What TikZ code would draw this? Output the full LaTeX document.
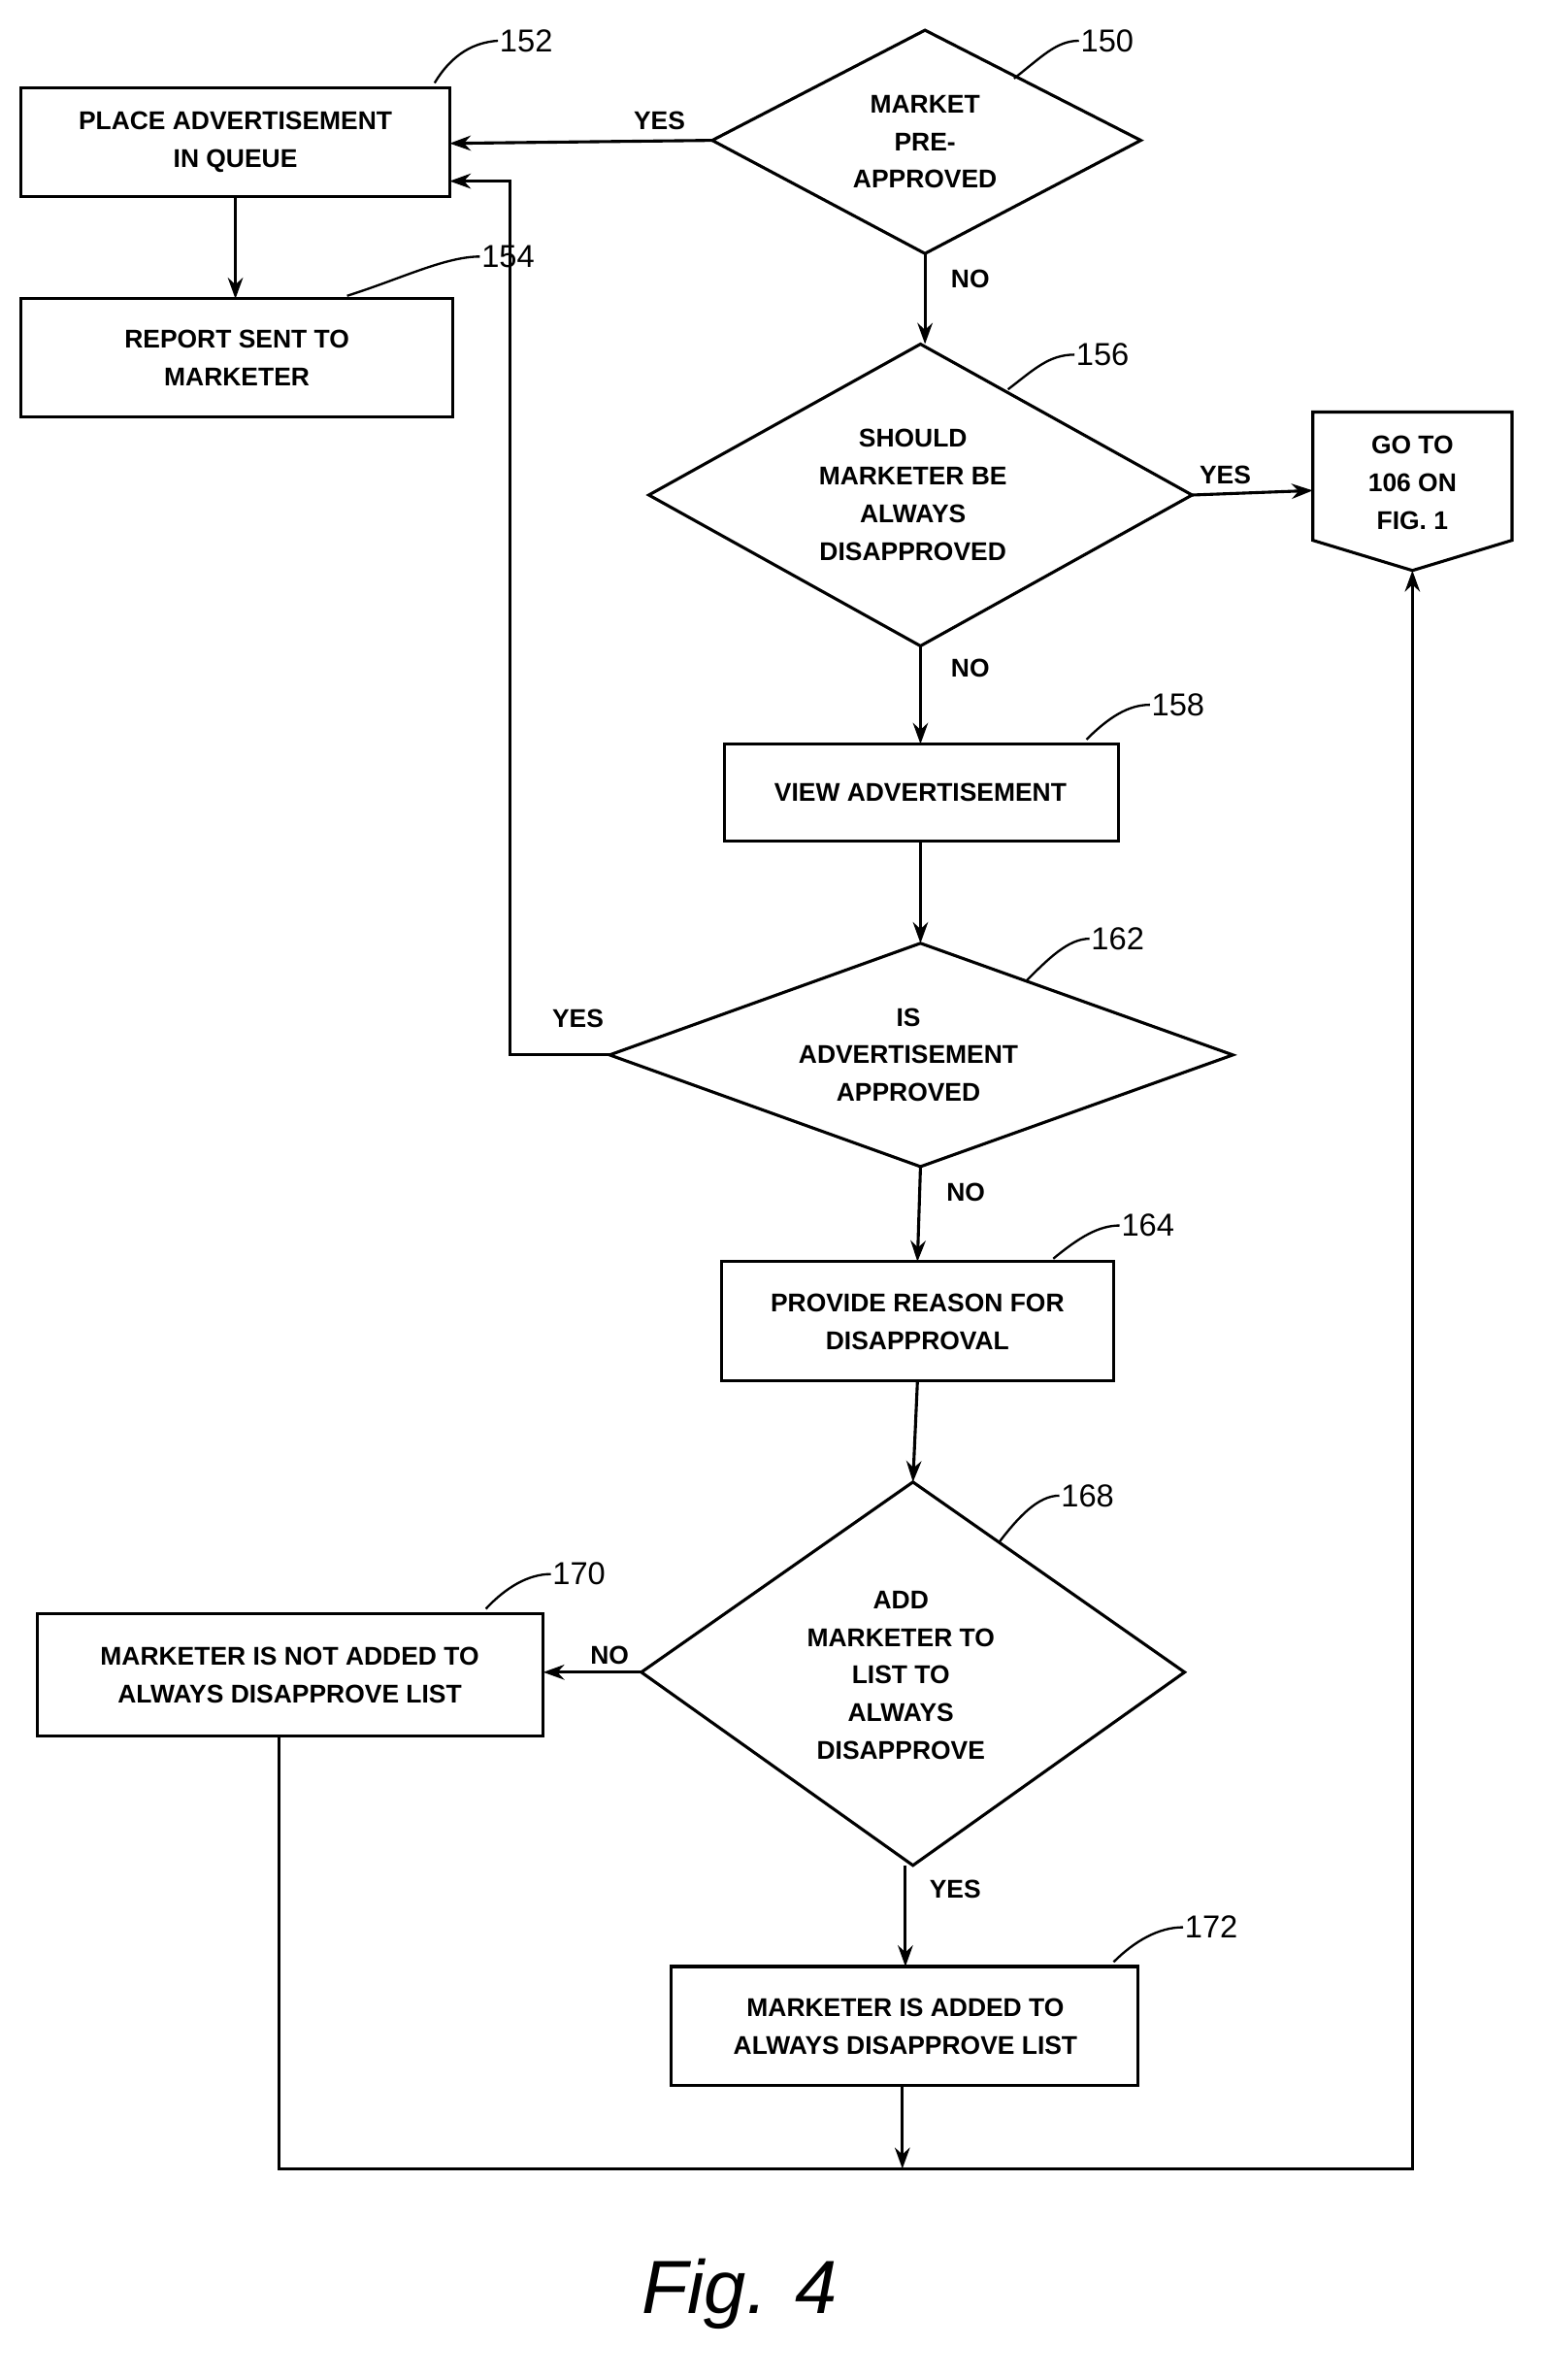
\documentclass[tikz,border=0pt]{standalone}
\usepackage{fontspec}
\setmainfont{Liberation Sans}
\usetikzlibrary{shapes.geometric,arrows.meta}
\begin{document}
\begin{tikzpicture}[x=1pt,y=-1pt,
  txt/.style={font=\bfseries\fontsize{17}{25}\selectfont,align=center,inner sep=0pt},
  bx/.style={draw,line width=2pt,minimum width=#1,minimum height=0pt},
  lbl/.style={font=\fontsize{21}{24}\selectfont,inner sep=1pt},
  ar/.style={line width=2pt,-{Stealth[length=14pt,width=10pt]}},
  ln/.style={line width=2pt},
  ld/.style={line width=1.5pt}]
\useasboundingbox (0,0) rectangle (1024,1577);
% boxes
\draw[ln] (14,58) rectangle (298,130);
\node[txt] (n152) at (156,94) {PLACE ADVERTISEMENT\\IN QUEUE};
\draw[ln] (14,198) rectangle (300,276);
\node[txt] (n154) at (157,237) {REPORT SENT TO\\MARKETER};
\draw[ln] (480,493) rectangle (741,557);
\node[txt] (n158) at (610,525) {VIEW ADVERTISEMENT};
\draw[ln] (478,836) rectangle (738,915);
\node[txt] (n164) at (608,876) {PROVIDE REASON FOR\\DISAPPROVAL};
\draw[ln] (25,1069) rectangle (360,1150);
\node[txt] (n170) at (192,1110) {MARKETER IS NOT ADDED TO\\ALWAYS DISAPPROVE LIST};
\draw[ln] (445,1303) rectangle (754,1382);
\node[txt] (n172) at (600,1343) {MARKETER IS ADDED TO\\ALWAYS DISAPPROVE LIST};
% diamonds
\draw[ln] (472,93) -- (613,20) -- (756,93) -- (613,168) -- cycle;
\node[txt] (n150) at (613,94) {MARKET\\PRE-\\APPROVED};
\draw[ln] (430,328) -- (610,228) -- (790,328) -- (610,428) -- cycle;
\node[txt] (n156) at (605,328) {SHOULD\\MARKETER BE\\ALWAYS\\DISAPPROVED};
\draw[ln] (404,699) -- (610,625) -- (817,699) -- (610,773) -- cycle;
\node[txt] (n162) at (602,699) {IS\\ADVERTISEMENT\\APPROVED};
\draw[ln] (425,1108) -- (605,982) -- (785,1108) -- (605,1236) -- cycle;
\node[txt] (n168) at (597,1110) {ADD\\MARKETER TO\\LIST TO\\ALWAYS\\DISAPPROVE};
% goto
\draw[ln] (870,273) -- (1002,273) -- (1002,358) -- (936,378) -- (870,358) -- cycle;
\node[txt] (go) at (936,320) {GO TO\\106 ON\\FIG. 1};
% coordinates
\coordinate (d150w) at (472,93); \coordinate (d150s) at (613,168);
\coordinate (b152e) at (298,95); \coordinate (b152e2) at (298,120);
\coordinate (b152s) at (156,130); \coordinate (b154n) at (156,198);
\coordinate (d156n) at (610,228); \coordinate (d156e) at (790,328); \coordinate (d156s) at (610,428);
\coordinate (gow) at (870,325); \coordinate (gos) at (936,378);
\coordinate (b158n) at (610,493); \coordinate (b158s) at (610,557);
\coordinate (d162n) at (610,625); \coordinate (d162w) at (404,699); \coordinate (d162s) at (610,773);
\coordinate (b164n) at (608,836); \coordinate (b164s) at (608,915);
\coordinate (d168n) at (605,982); \coordinate (d168w) at (425,1108); \coordinate (d168s) at (600,1236);
\coordinate (b170e) at (360,1108); \coordinate (b170s) at (185,1150);
\coordinate (b172n) at (600,1303); \coordinate (b172s) at (598,1382);
\coordinate (j) at (598,1437);
% connectors
\draw[ar] (d150w) -- (b152e);
\draw[ar] (b152s) -- (b154n);
\draw[ar] (d150s) -- (613,228);
\draw[ar] (d156e) -- (gow);
\draw[ar] (d156s) -- (b158n);
\draw[ar] (b158s) -- (d162n);
\draw[ar] (d162w) -- (338,699) -- (338,120) -- (b152e2);
\draw[ar] (d162s) -- (b164n);
\draw[ar] (b164s) -- (d168n);
\draw[ar] (d168w) -- (b170e);
\draw[ar] (d168s) -- (b172n);
\draw[ar] (b172s) -- (j);
\draw[ar] (b170s) -- (185,1437) -- (936,1437) -- (gos);
% branch labels
\node[txt] at (437,80) {YES};
\node[txt] at (643,185) {NO};
\node[txt] at (812,315) {YES};
\node[txt] at (643,443) {NO};
\node[txt] at (383,675) {YES};
\node[txt] at (640,790) {NO};
\node[txt] at (404,1097) {NO};
\node[txt] at (633,1252) {YES};
% reference numerals
\node[lbl,anchor=west] (r152) at (330,27) {152};
\draw[ld] (288,55) .. controls (300,35) and (315,28) .. (r152.west);
\node[lbl,anchor=west] (r154) at (318,170) {154};
\draw[ld] (230,196) .. controls (265,185) and (295,170) .. (r154.west);
\node[lbl,anchor=west] (r150) at (715,27) {150};
\draw[ld] (672,52) .. controls (690,38) and (700,27) .. (r150.west);
\node[lbl,anchor=west] (r156) at (712,235) {156};
\draw[ld] (668,258) .. controls (685,245) and (695,235) .. (r156.west);
\node[lbl,anchor=west] (r158) at (762,467) {158};
\draw[ld] (720,490) .. controls (735,475) and (748,467) .. (r158.west);
\node[lbl,anchor=west] (r162) at (722,622) {162};
\draw[ld] (680,650) .. controls (695,635) and (708,622) .. (r162.west);
\node[lbl,anchor=west] (r164) at (742,812) {164};
\draw[ld] (698,834) .. controls (715,820) and (728,812) .. (r164.west);
\node[lbl,anchor=west] (r168) at (702,991) {168};
\draw[ld] (662,1022) .. controls (675,1005) and (688,991) .. (r168.west);
\node[lbl,anchor=west] (r170) at (365,1043) {170};
\draw[ld] (322,1066) .. controls (335,1052) and (350,1043) .. (r170.west);
\node[lbl,anchor=west] (r172) at (784,1277) {172};
\draw[ld] (738,1300) .. controls (752,1286) and (768,1277) .. (r172.west);
\node[font=\itshape\fontsize{50}{55}\selectfont] (fig) at (490,1520) {Fig. 4};
\end{tikzpicture}
\end{document}
